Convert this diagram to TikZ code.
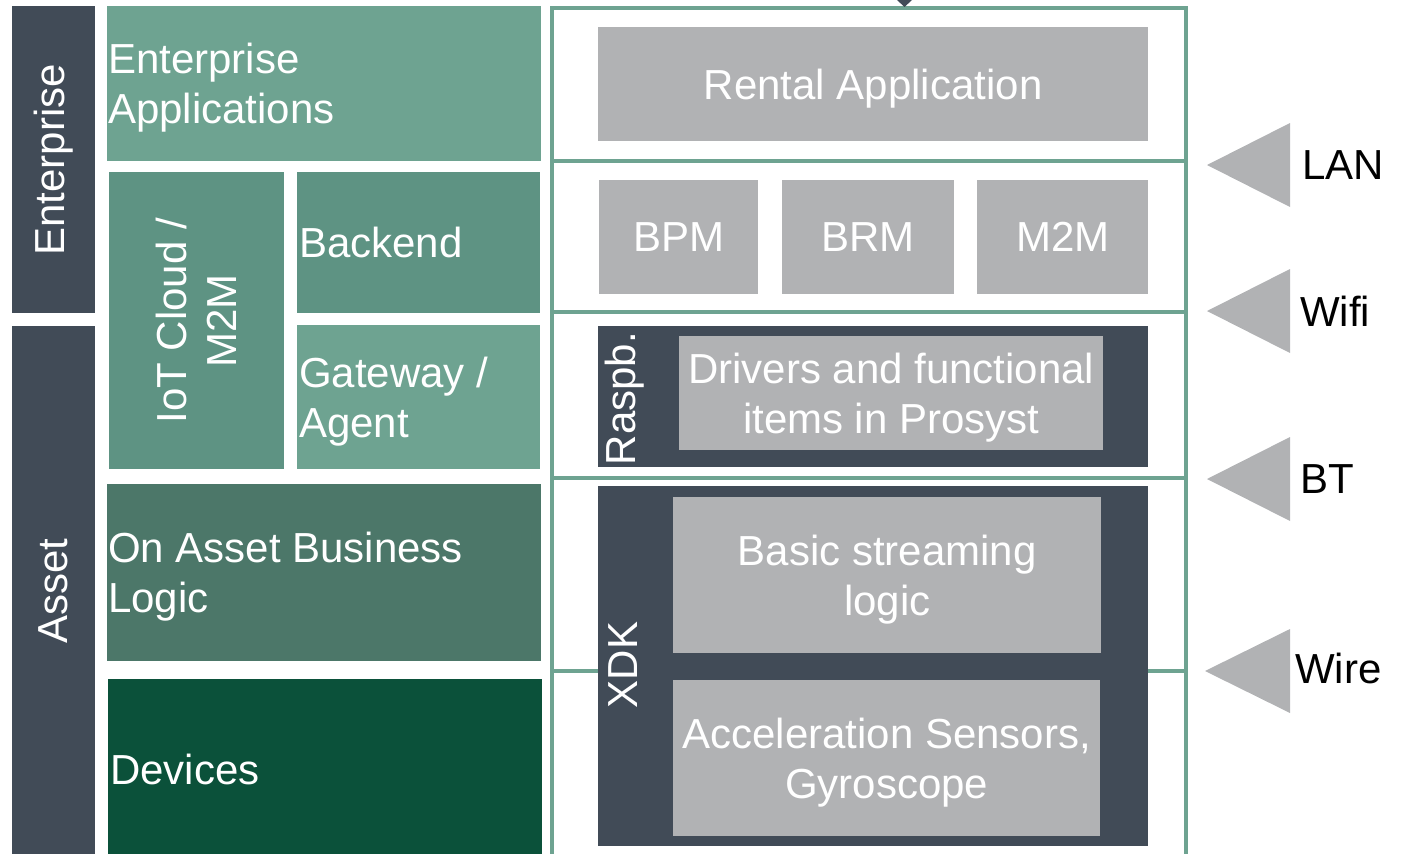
\documentclass[tikz,border=0pt]{standalone}
\usepackage{fontspec}
\setmainfont{Liberation Sans}
\definecolor{darkbar}{HTML}{414B57}
\definecolor{tealA}{HTML}{6EA391}
\definecolor{tealB}{HTML}{5E9383}
\definecolor{tealC}{HTML}{4C7769}
\definecolor{devgreen}{HTML}{0B513A}
\definecolor{grayb}{HTML}{B1B2B4}
\definecolor{frameg}{HTML}{6EA391}
\begin{document}
\begin{tikzpicture}[x=1pt,y=-1pt,
  every node/.style={font=\fontsize{42}{50}\selectfont, text=white, inner sep=0pt},
  plainbox/.style={anchor=north west},
  ltext/.style={anchor=west, align=left, text depth=0pt},
  gbox/.style={anchor=north west, fill=grayb, align=center, text depth=0pt},
  rowframe/.style={draw=frameg, line width=4pt},
  tri/.style={fill=grayb},
  netlabel/.style={anchor=west, text=black}]
\useasboundingbox (0,0) rectangle (1401,854);

% left side
\node[plainbox, fill=darkbar, minimum width=83, minimum height=307] (entbar) at (12,6) {};
\node[rotate=90] (entlbl) at (entbar.center) {Enterprise};
\node[plainbox, fill=darkbar, minimum width=83, minimum height=530] (assetbar) at (12,326) {};
\node[rotate=90] (assetlbl) at (assetbar.center) {Asset};

\node[plainbox, fill=tealA, minimum width=434, minimum height=155] (entapp) at (107,6) {};
\node[ltext, xshift=1pt] (entapplbl) at (entapp.west) {Enterprise\\Applications};
\node[plainbox, fill=tealB, minimum width=175, minimum height=297] (iot) at (109,172) {};
\node[rotate=90, align=center] (iotlbl) at (iot.center) {IoT Cloud /\\M2M};
\node[plainbox, fill=tealB, minimum width=243, minimum height=141] (backend) at (297,172) {};
\node[ltext, xshift=2pt] (backendlbl) at (backend.west) {Backend};
\node[plainbox, fill=tealA, minimum width=243, minimum height=144] (gateway) at (297,325) {};
\node[ltext, xshift=2pt] (gatewaylbl) at (gateway.west) {Gateway /\\Agent};
\node[plainbox, fill=tealC, minimum width=434, minimum height=177] (onasset) at (107,484) {};
\node[ltext, xshift=1pt] (onassetlbl) at (onasset.west) {On Asset Business\\Logic};
\node[plainbox, fill=devgreen, minimum width=434, minimum height=180] (devices) at (108,679) {};
\node[ltext, xshift=2pt] (deviceslbl) at (devices.west) {Devices};

% right frame rows
\draw[rowframe] (551.5,8) rectangle (1185.5,161);
\draw[rowframe] (551.5,161) rectangle (1185.5,312);
\draw[rowframe] (551.5,312) rectangle (1185.5,478);
\draw[rowframe] (551.5,478) rectangle (1185.5,671);
\draw[rowframe] (551.5,671) rectangle (1185.5,870);
\fill[darkbar] (897,0) -- (912,0) -- (904.5,7) -- cycle;

% right boxes
\node[gbox, minimum width=550, minimum height=114] (rental) at (598,27) {Rental Application};
\node[gbox, minimum width=159, minimum height=114] (bpm) at (599,180) {BPM};
\node[gbox, minimum width=172, minimum height=114] (brm) at (782,180) {BRM};
\node[gbox, minimum width=171, minimum height=114] (m2m) at (977,180) {M2M};

\node[plainbox, fill=darkbar, minimum width=550, minimum height=141] (raspb) at (598,326) {};
\node[rotate=90] (raspblbl) at (625,398.5) {Raspb.};
\node[gbox, minimum width=424, minimum height=114] (drivers) at (679,336) {Drivers and functional\\items in Prosyst};

\node[plainbox, fill=darkbar, minimum width=550, minimum height=360] (xdk) at (598,486) {};
\node[rotate=90] (xdklbl) at (623,665) {XDK};
\node[gbox, minimum width=428, minimum height=156] (basic) at (673,497) {Basic streaming\\logic};
\node[gbox, minimum width=427, minimum height=156] (accel) at (673,680) {Acceleration Sensors,\\Gyroscope};

% network triangles
\fill[tri] (1290,123) -- (1207,165) -- (1290,207) -- cycle;
\node[netlabel] (lan) at (1302,165) {LAN};
\fill[tri] (1290,269) -- (1207,311) -- (1290,353) -- cycle;
\node[netlabel] (wifi) at (1300,311) {Wifi};
\fill[tri] (1290,437) -- (1207,479) -- (1290,521) -- cycle;
\node[netlabel] (bt) at (1300,479) {BT};
\fill[tri] (1290,629) -- (1205,671) -- (1290,713) -- cycle;
\node[netlabel] (wire) at (1295,668) {Wire};
\end{tikzpicture}
\end{document}
